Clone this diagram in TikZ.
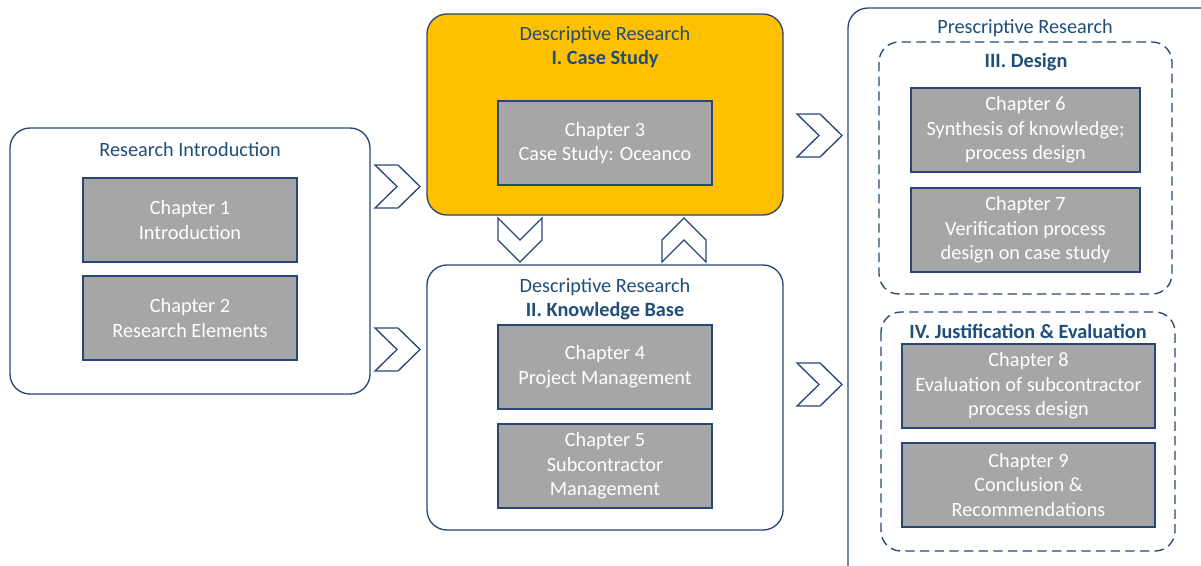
\documentclass[tikz,border=0pt]{standalone}
\usepackage{fontspec}
\setmainfont{Carlito}
\usetikzlibrary{positioning}
\definecolor{navy}{RGB}{40,70,118}
\definecolor{titleblue}{RGB}{31,78,121}
\definecolor{chapgray}{RGB}{166,166,166}
\definecolor{casegold}{RGB}{255,192,0}

\tikzset{
  frame/.style={draw=navy, line width=1pt, rounded corners=15pt},
  dashframe/.style={frame, dash pattern=on 7pt off 4pt},
  chap/.style={draw=navy, line width=0.8pt, fill=chapgray, text=white, align=center,
    minimum width=160.5pt, minimum height=63pt, inner sep=2pt, font=\fontsize{15.2}{18.5}\selectfont},
  ttl/.style={text=titleblue, font=\fontsize{15.2}{18}\selectfont},
  bttl/.style={text=titleblue, font=\fontsize{15.2}{18}\selectfont\bfseries},
  chev/.style={draw=navy, line width=1pt, fill=white, line join=miter},
}
\newcommand{\chevright}[2]{\draw[chev] (#1,#2) -- ++(23,0) -- ++(22,21.5) -- ++(-22,21.5) -- ++(-23,0) -- ++(22,-21.5) -- cycle;}
\newcommand{\chevdown}[2]{\draw[chev] (#1,#2) -- ++(22,22) -- ++(22,-22) -- ++(0,22) -- ++(-22,22) -- ++(-22,-22) -- cycle;}
\newcommand{\chevup}[2]{\draw[chev] (#1,#2) -- ++(22,-22) -- ++(22,22) -- ++(0,-22) -- ++(-22,-22) -- ++(-22,22) -- cycle;}

\begin{document}
\begin{tikzpicture}[x=0.75pt, y=-0.75pt]
\useasboundingbox (0,0) rectangle (1201,565);
\clip (0,0) rectangle (1201,565);

% research introduction
\draw[frame] (10,128) rectangle (370,394);
\node[ttl] (intro) at (190,150) {Research Introduction};
\node[chap] (ch1) at (190,220) {Chapter 1\\Introduction};
\node[chap] (ch2) at (190,318) {Chapter 2\\Research Elements};

% case study
\draw[frame, fill=casegold] (427,14) rectangle (783,215);
\node[ttl] (desc1) at (605,35) {Descriptive Research};
\node[bttl] (case) at (605,59) {I. Case Study};
\node[chap] (ch3) at (605,143) {Chapter 3\\Case Study: Oceanco};

% knowledge base
\draw[frame] (427,265) rectangle (783,530);
\node[ttl] (desc2) at (605,287) {Descriptive Research};
\node[bttl] (kb) at (605,311) {II. Knowledge Base};
\node[chap] (ch4) at (605,367) {Chapter 4\\Project Management};
\node[chap] (ch5) at (605,466) {Chapter 5\\Subcontractor\\Management};

% prescriptive research
\draw[frame] (848,8) rectangle (1240,600);
\node[ttl] (presc) at (1025,28) {Prescriptive Research};
\draw[dashframe] (879,42) rectangle (1172,294);
\node[bttl] (design) at (1026,62) {III. Design};
\node[chap, minimum width=171.75pt] (ch6) at (1025.5,130) {Chapter 6\\Synthesis of knowledge;\\process design};
\node[chap, minimum width=171.75pt] (ch7) at (1025.5,230) {Chapter 7\\Verification process\\design on case study};
\draw[dashframe] (881,312) rectangle (1175,551);
\node[bttl] (justif) at (1028,331) {IV. Justification \& Evaluation};
\node[chap, minimum width=189.75pt] (ch8) at (1028.5,386) {Chapter 8\\Evaluation of subcontractor\\process design};
\node[chap, minimum width=189.75pt] (ch9) at (1028.5,485) {Chapter 9\\Conclusion \&\\Recommendations};

% chevrons
\chevright{375}{165}
\chevright{375}{328}
\chevright{797}{114}
\chevright{797}{363}
\chevdown{498}{218}
\chevup{662}{262}
\end{tikzpicture}
\end{document}
